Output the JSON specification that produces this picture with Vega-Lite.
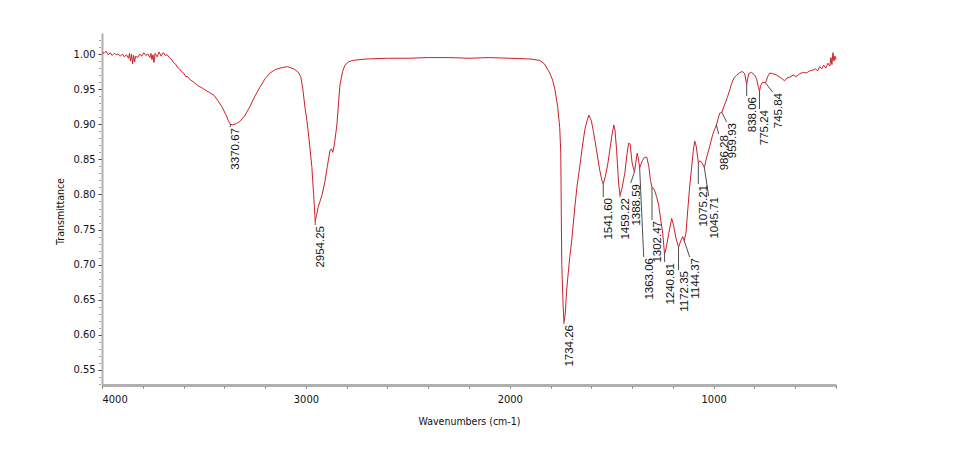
{
  "$schema": "https://vega.github.io/schema/vega-lite/v6.json",
  "autosize": {"type": "none"},
  "width": 734,
  "height": 352,
  "padding": {"left": 102, "top": 33, "right": 127, "bottom": 69},
  "background": "white",
  "config": {"view": {"stroke": null}},
  "datasets": {
    "spectrum": [
      {"wn": 4000, "t": 1.003}, {"wn": 3990, "t": 1.001}, {"wn": 3980, "t": 1.004}, {"wn": 3970, "t": 0.999},
      {"wn": 3960, "t": 1.002}, {"wn": 3950, "t": 0.998}, {"wn": 3940, "t": 1.001}, {"wn": 3930, "t": 0.999},
      {"wn": 3920, "t": 1.000}, {"wn": 3910, "t": 0.997}, {"wn": 3900, "t": 1.000}, {"wn": 3890, "t": 0.996},
      {"wn": 3880, "t": 0.999}, {"wn": 3870, "t": 0.994}, {"wn": 3865, "t": 1.001}, {"wn": 3860, "t": 0.990},
      {"wn": 3855, "t": 1.000}, {"wn": 3850, "t": 0.986}, {"wn": 3845, "t": 0.998}, {"wn": 3840, "t": 0.989},
      {"wn": 3835, "t": 0.997}, {"wn": 3825, "t": 0.995}, {"wn": 3815, "t": 1.000}, {"wn": 3805, "t": 0.997},
      {"wn": 3795, "t": 1.002}, {"wn": 3785, "t": 0.998}, {"wn": 3775, "t": 1.000}, {"wn": 3765, "t": 0.995},
      {"wn": 3760, "t": 1.001}, {"wn": 3755, "t": 0.992}, {"wn": 3750, "t": 0.999}, {"wn": 3745, "t": 0.988},
      {"wn": 3740, "t": 1.001}, {"wn": 3730, "t": 0.996}, {"wn": 3720, "t": 1.003}, {"wn": 3710, "t": 0.997},
      {"wn": 3700, "t": 1.002}, {"wn": 3690, "t": 0.998}, {"wn": 3680, "t": 0.999}, {"wn": 3670, "t": 0.995},
      {"wn": 3660, "t": 0.993}, {"wn": 3650, "t": 0.988}, {"wn": 3640, "t": 0.986}, {"wn": 3630, "t": 0.981},
      {"wn": 3620, "t": 0.979}, {"wn": 3610, "t": 0.975}, {"wn": 3600, "t": 0.973}, {"wn": 3590, "t": 0.968},
      {"wn": 3580, "t": 0.968}, {"wn": 3570, "t": 0.964}, {"wn": 3550, "t": 0.960}, {"wn": 3530, "t": 0.955},
      {"wn": 3510, "t": 0.952}, {"wn": 3490, "t": 0.948}, {"wn": 3471, "t": 0.945}, {"wn": 3450, "t": 0.941},
      {"wn": 3430, "t": 0.933}, {"wn": 3410, "t": 0.924}, {"wn": 3390, "t": 0.912}, {"wn": 3380, "t": 0.905},
      {"wn": 3370.67, "t": 0.900}, {"wn": 3360, "t": 0.899}, {"wn": 3340, "t": 0.901}, {"wn": 3324, "t": 0.904},
      {"wn": 3300, "t": 0.912}, {"wn": 3275, "t": 0.925}, {"wn": 3250, "t": 0.940}, {"wn": 3225, "t": 0.953},
      {"wn": 3200, "t": 0.965}, {"wn": 3176, "t": 0.973}, {"wn": 3150, "t": 0.978}, {"wn": 3113, "t": 0.981},
      {"wn": 3090, "t": 0.982}, {"wn": 3060, "t": 0.979}, {"wn": 3040, "t": 0.975}, {"wn": 3025, "t": 0.968},
      {"wn": 3015, "t": 0.950}, {"wn": 3005, "t": 0.925}, {"wn": 2995, "t": 0.905}, {"wn": 2985, "t": 0.880},
      {"wn": 2971, "t": 0.840}, {"wn": 2962, "t": 0.800}, {"wn": 2954.25, "t": 0.762}, {"wn": 2948, "t": 0.770},
      {"wn": 2940, "t": 0.782}, {"wn": 2931, "t": 0.790}, {"wn": 2920, "t": 0.800}, {"wn": 2907, "t": 0.818},
      {"wn": 2895, "t": 0.840}, {"wn": 2882, "t": 0.862}, {"wn": 2875, "t": 0.865}, {"wn": 2868, "t": 0.860},
      {"wn": 2860, "t": 0.872}, {"wn": 2848, "t": 0.899}, {"wn": 2840, "t": 0.930}, {"wn": 2833, "t": 0.956},
      {"wn": 2820, "t": 0.975}, {"wn": 2809, "t": 0.984}, {"wn": 2790, "t": 0.989}, {"wn": 2770, "t": 0.991},
      {"wn": 2700, "t": 0.993}, {"wn": 2600, "t": 0.994}, {"wn": 2500, "t": 0.994}, {"wn": 2400, "t": 0.995},
      {"wn": 2300, "t": 0.995}, {"wn": 2200, "t": 0.994}, {"wn": 2100, "t": 0.995}, {"wn": 2000, "t": 0.994},
      {"wn": 1900, "t": 0.993}, {"wn": 1853, "t": 0.991}, {"wn": 1830, "t": 0.986}, {"wn": 1804, "t": 0.973},
      {"wn": 1790, "t": 0.963}, {"wn": 1779, "t": 0.950}, {"wn": 1765, "t": 0.925}, {"wn": 1755, "t": 0.895},
      {"wn": 1750, "t": 0.860}, {"wn": 1745, "t": 0.700}, {"wn": 1738, "t": 0.640}, {"wn": 1734.26, "t": 0.619},
      {"wn": 1728, "t": 0.630}, {"wn": 1722, "t": 0.660}, {"wn": 1716, "t": 0.680}, {"wn": 1706, "t": 0.710},
      {"wn": 1696, "t": 0.735}, {"wn": 1681, "t": 0.782}, {"wn": 1670, "t": 0.812}, {"wn": 1657, "t": 0.839},
      {"wn": 1645, "t": 0.866}, {"wn": 1632, "t": 0.892}, {"wn": 1620, "t": 0.906}, {"wn": 1612, "t": 0.913},
      {"wn": 1600, "t": 0.905}, {"wn": 1590, "t": 0.890}, {"wn": 1583, "t": 0.878}, {"wn": 1570, "t": 0.855},
      {"wn": 1559, "t": 0.835}, {"wn": 1548, "t": 0.820}, {"wn": 1541.6, "t": 0.815}, {"wn": 1532, "t": 0.825},
      {"wn": 1520, "t": 0.842}, {"wn": 1510, "t": 0.862}, {"wn": 1500, "t": 0.882}, {"wn": 1490, "t": 0.899},
      {"wn": 1484, "t": 0.892}, {"wn": 1476, "t": 0.863}, {"wn": 1466, "t": 0.815}, {"wn": 1459.22, "t": 0.799},
      {"wn": 1450, "t": 0.808}, {"wn": 1436, "t": 0.830}, {"wn": 1425, "t": 0.858}, {"wn": 1417, "t": 0.873},
      {"wn": 1410, "t": 0.872}, {"wn": 1400, "t": 0.845}, {"wn": 1388.59, "t": 0.832}, {"wn": 1382, "t": 0.845},
      {"wn": 1375, "t": 0.859}, {"wn": 1370, "t": 0.852}, {"wn": 1363.06, "t": 0.838}, {"wn": 1350, "t": 0.848},
      {"wn": 1340, "t": 0.853}, {"wn": 1328, "t": 0.853}, {"wn": 1318, "t": 0.840}, {"wn": 1310, "t": 0.820},
      {"wn": 1302.47, "t": 0.810}, {"wn": 1296, "t": 0.809}, {"wn": 1290, "t": 0.806}, {"wn": 1280, "t": 0.797},
      {"wn": 1270, "t": 0.785}, {"wn": 1260, "t": 0.765}, {"wn": 1250, "t": 0.745}, {"wn": 1240.81, "t": 0.715},
      {"wn": 1232, "t": 0.725}, {"wn": 1220, "t": 0.745}, {"wn": 1206, "t": 0.766}, {"wn": 1196, "t": 0.755},
      {"wn": 1185, "t": 0.738}, {"wn": 1172.35, "t": 0.725}, {"wn": 1160, "t": 0.735}, {"wn": 1152, "t": 0.740},
      {"wn": 1144.37, "t": 0.734}, {"wn": 1136, "t": 0.745}, {"wn": 1127, "t": 0.778}, {"wn": 1118, "t": 0.810},
      {"wn": 1108, "t": 0.839}, {"wn": 1100, "t": 0.862}, {"wn": 1093, "t": 0.876}, {"wn": 1085, "t": 0.868},
      {"wn": 1078, "t": 0.852}, {"wn": 1075.21, "t": 0.845}, {"wn": 1068, "t": 0.848}, {"wn": 1060, "t": 0.846},
      {"wn": 1052, "t": 0.842}, {"wn": 1045.71, "t": 0.838}, {"wn": 1035, "t": 0.852}, {"wn": 1020, "t": 0.868},
      {"wn": 1005, "t": 0.885}, {"wn": 995, "t": 0.893}, {"wn": 986.28, "t": 0.899}, {"wn": 978, "t": 0.908},
      {"wn": 970, "t": 0.916}, {"wn": 959.93, "t": 0.917}, {"wn": 950, "t": 0.925}, {"wn": 940, "t": 0.933},
      {"wn": 931, "t": 0.940}, {"wn": 920, "t": 0.950}, {"wn": 912, "t": 0.958}, {"wn": 900, "t": 0.966},
      {"wn": 887, "t": 0.970}, {"wn": 870, "t": 0.974}, {"wn": 858, "t": 0.975}, {"wn": 848, "t": 0.972},
      {"wn": 838.06, "t": 0.957}, {"wn": 832, "t": 0.966}, {"wn": 828, "t": 0.972}, {"wn": 815, "t": 0.974},
      {"wn": 799, "t": 0.970}, {"wn": 790, "t": 0.965}, {"wn": 780, "t": 0.952}, {"wn": 775.24, "t": 0.947},
      {"wn": 770, "t": 0.955}, {"wn": 760, "t": 0.960}, {"wn": 745.84, "t": 0.959}, {"wn": 735, "t": 0.968},
      {"wn": 725, "t": 0.973}, {"wn": 710, "t": 0.972}, {"wn": 691, "t": 0.970}, {"wn": 670, "t": 0.966},
      {"wn": 652, "t": 0.962}, {"wn": 640, "t": 0.966}, {"wn": 627, "t": 0.967}, {"wn": 610, "t": 0.970},
      {"wn": 595, "t": 0.968}, {"wn": 578, "t": 0.972}, {"wn": 560, "t": 0.974}, {"wn": 545, "t": 0.973},
      {"wn": 529, "t": 0.976}, {"wn": 515, "t": 0.977}, {"wn": 500, "t": 0.979}, {"wn": 490, "t": 0.976},
      {"wn": 480, "t": 0.982}, {"wn": 470, "t": 0.979}, {"wn": 460, "t": 0.984}, {"wn": 450, "t": 0.980},
      {"wn": 440, "t": 0.987}, {"wn": 430, "t": 0.983}, {"wn": 425, "t": 0.995}, {"wn": 420, "t": 0.985},
      {"wn": 415, "t": 1.002}, {"wn": 410, "t": 0.990}, {"wn": 405, "t": 0.997}, {"wn": 400, "t": 0.992}
    ],
    "peaks": [
      {"label": "3370.67", "wn": 3370.67, "t": 0.900, "lx": 3370.67, "ly": 0.896},
      {"label": "2954.25", "wn": 2954.25, "t": 0.762, "lx": 2954.25, "ly": 0.7565},
      {"label": "1734.26", "wn": 1734.26, "t": 0.619, "lx": 1734.26, "ly": 0.6155},
      {"label": "1541.60", "wn": 1541.6, "t": 0.815, "lx": 1541.6, "ly": 0.7964},
      {"label": "1459.22", "wn": 1459.22, "t": 0.799, "lx": 1459.22, "ly": 0.7964},
      {"label": "1388.59", "wn": 1388.59, "t": 0.832, "lx": 1406.9, "ly": 0.8163},
      {"label": "1363.06", "wn": 1363.06, "t": 0.838, "lx": 1343.1, "ly": 0.7109},
      {"label": "1302.47", "wn": 1302.47, "t": 0.810, "lx": 1302.47, "ly": 0.7636},
      {"label": "1240.81", "wn": 1240.81, "t": 0.715, "lx": 1240.81, "ly": 0.7038},
      {"label": "1172.35", "wn": 1172.35, "t": 0.725, "lx": 1172.35, "ly": 0.6924},
      {"label": "1144.37", "wn": 1144.37, "t": 0.734, "lx": 1117.6, "ly": 0.7109},
      {"label": "1075.21", "wn": 1075.21, "t": 0.845, "lx": 1075.21, "ly": 0.8149},
      {"label": "1045.71", "wn": 1045.71, "t": 0.838, "lx": 1024.5, "ly": 0.7978},
      {"label": "986.28", "wn": 986.28, "t": 0.899, "lx": 975.5, "ly": 0.886},
      {"label": "959.93", "wn": 959.93, "t": 0.917, "lx": 936.3, "ly": 0.9032},
      {"label": "838.06", "wn": 838.06, "t": 0.957, "lx": 838.06, "ly": 0.9402},
      {"label": "775.24", "wn": 775.24, "t": 0.947, "lx": 775.24, "ly": 0.9217},
      {"label": "745.84", "wn": 745.84, "t": 0.959, "lx": 710.8, "ly": 0.9459}
    ],
    "labels": [
      {"label": "3370.67", "wn": 3370.67, "t": 0.896},
      {"label": "2954.25", "wn": 2954.25, "t": 0.7565},
      {"label": "1734.26", "wn": 1734.26, "t": 0.6155},
      {"label": "1541.60", "wn": 1541.6, "t": 0.7964},
      {"label": "1459.22", "wn": 1459.22, "t": 0.7964},
      {"label": "1388.59", "wn": 1406.9, "t": 0.8163},
      {"label": "1363.06", "wn": 1343.1, "t": 0.7109},
      {"label": "1302.47", "wn": 1302.47, "t": 0.7636},
      {"label": "1240.81", "wn": 1240.81, "t": 0.7038},
      {"label": "1172.35", "wn": 1172.35, "t": 0.6924},
      {"label": "1144.37", "wn": 1117.6, "t": 0.7109},
      {"label": "1075.21", "wn": 1075.21, "t": 0.8149},
      {"label": "1045.71", "wn": 1024.5, "t": 0.7978},
      {"label": "986.28", "wn": 975.5, "t": 0.886},
      {"label": "959.93", "wn": 936.3, "t": 0.9032},
      {"label": "838.06", "wn": 838.06, "t": 0.9402},
      {"label": "775.24", "wn": 775.24, "t": 0.9217},
      {"label": "745.84", "wn": 710.8, "t": 0.9459}
    ]
  },
  "encoding": {
    "x": {
      "field": "wn", "type": "quantitative",
      "scale": {"domain": [400, 4000], "reverse": true, "nice": false, "zero": false},
      "axis": {
        "title": "Wavenumbers (cm-1)",
        "values": [4000, 3800, 3600, 3400, 3200, 3000, 2800, 2600, 2400, 2200, 2000, 1800, 1600, 1400, 1200, 1000, 800, 600, 400],
        "labelExpr": "datum.value % 1000 === 0 ? datum.label : ''",
        "labelOverlap": false,
        "format": "d",
        "grid": false,
        "domainColor": "#b0b0b0", "domainWidth": 3,
        "tickColor": "#666666", "tickSize": 3, "tickWidth": 1,
        "labelFont": "Liberation Sans Narrow, DejaVu Sans Condensed, Liberation Sans, sans-serif",
        "labelFontSize": 11, "labelColor": "#111111", "labelPadding": 5,
        "titleFont": "Liberation Sans Narrow, DejaVu Sans Condensed, Liberation Sans, sans-serif",
        "titleFontSize": 10.5, "titleFontWeight": "normal", "titleColor": "#111111",
        "titleY": 36, "titleBaseline": "middle"
      }
    },
    "y": {
      "field": "t", "type": "quantitative",
      "scale": {"domain": [0.5286, 1.03], "nice": false, "zero": false},
      "axis": {
        "title": "Transmittance",
        "values": [0.53, 0.54, 0.55, 0.56, 0.57, 0.58, 0.59, 0.6, 0.61, 0.62, 0.63, 0.64, 0.65, 0.66, 0.67, 0.68, 0.69, 0.7, 0.71, 0.72, 0.73, 0.74, 0.75, 0.76, 0.77, 0.78, 0.79, 0.8, 0.81, 0.82, 0.83, 0.84, 0.85, 0.86, 0.87, 0.88, 0.89, 0.9, 0.91, 0.92, 0.93, 0.94, 0.95, 0.96, 0.97, 0.98, 0.99, 1.0, 1.01, 1.02],
        "labelExpr": "(abs(datum.value * 20 - round(datum.value * 20)) < 0.01) ? format(datum.value, '.2f') : ''",
        "labelOverlap": false,
        "grid": false,
        "domainColor": "#b0b0b0", "domainWidth": 2,
        "tickColor": "#444444", "tickWidth": 1, "tickSize": 4,
        "tickDash": {"condition": {"test": "abs(datum.value * 20 - round(datum.value * 20)) < 0.01", "value": []}, "value": [0, 2, 1, 1]},
        "labelFont": "Liberation Sans Narrow, DejaVu Sans Condensed, Liberation Sans, sans-serif",
        "labelFontSize": 11, "labelColor": "#111111", "labelPadding": 3,
        "titleFont": "Liberation Sans Narrow, DejaVu Sans Condensed, Liberation Sans, sans-serif",
        "titleFontSize": 10.5, "titleFontWeight": "normal", "titleColor": "#111111",
        "titleX": -42, "titleY": 178, "titleAngle": 270, "titleBaseline": "middle", "titleAlign": "center"
      }
    }
  },
  "layer": [
    {
      "data": {"name": "spectrum"},
      "mark": {"type": "line", "color": "#cc1f2b", "strokeWidth": 1, "interpolate": "linear"}
    },
    {
      "data": {"name": "peaks"},
      "mark": {"type": "rule", "color": "#222222", "strokeWidth": 0.8},
      "encoding": {
        "x2": {"field": "lx"},
        "y2": {"field": "ly"}
      }
    },
    {
      "data": {"name": "labels"},
      "mark": {"type": "text", "angle": 270, "align": "right", "baseline": "top", "font": "Liberation Sans, Arial, sans-serif", "fontSize": 11.5, "color": "#111111", "dx": -1},
      "encoding": {
        "text": {"field": "label"}
      }
    }
  ]
}
